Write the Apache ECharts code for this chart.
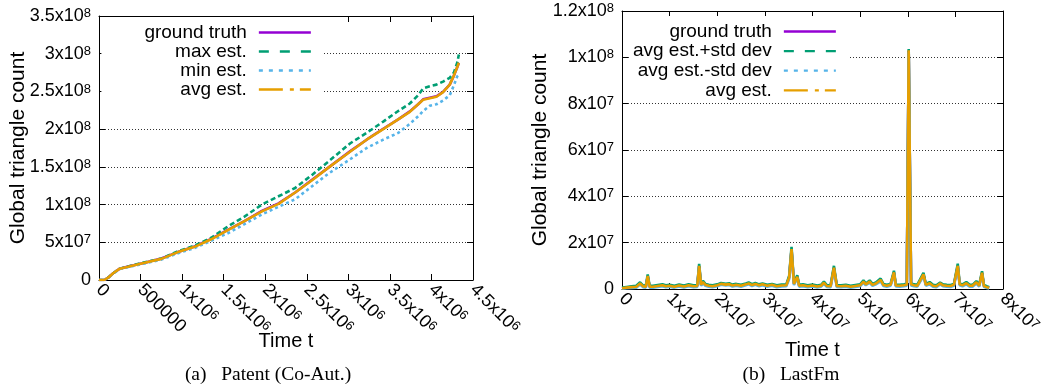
<!DOCTYPE html>
<html><head><meta charset="utf-8">
<script src="https://cdn.jsdelivr.net/npm/echarts@6/dist/echarts.min.js"></script>
<style>html,body{margin:0;padding:0;background:#fff}#c{width:1055px;height:389px}</style>
</head><body><div id="c"></div>
<script>
// ---------- Chart (a) Patent (Co-Aut.) : time in 1e6, counts in 1e6 ----------
const timeA  = [0,0.064,0.11,0.17,0.25,0.35,0.55,0.75,0.95,1.15,1.35,1.55,1.75,1.96,2.16,2.36,2.56,2.76,3.02,3.22,3.42,3.6,3.74,3.84,3.9,3.98,4.06,4.14,4.22,4.27,4.31,4.33];
const truthA = [0,0,3,9,15,17.8,23,28.5,37,44.5,54.5,66.5,78,91.5,101.5,116,132.5,149,170.5,186,200.5,213,223.5,233,239.5,241.5,243.5,249.5,259,271,282,288];
const maxA   = [0,0,3,9,15,17.8,23.5,28.5,38,45.5,56,71,84,100,111,122,139,157,181,195,210,224,234,245,254,257,259,263,268,275,288,299];
const minA   = [0,0,3,8.5,14.5,17,22,27,35.5,42.5,52,62,74,87,97,107,124,141,160,175,186,195,207,217,224,231,233,238,245,258,270,272];
const avgA   = [0,0,3,9,15,17.6,23,28,37,44,54,66,78,91,101,116,132,149,170,186,200,213,223,233,239,241,243,249,259,271,282,288];
const xTicksA = ['0','500000','1x10^6','1.5x10^6','2x10^6','2.5x10^6','3x10^6','3.5x10^6','4x10^6','4.5x10^6'];
const yTicksA = ['0','5x10^7','1x10^8','1.5x10^8','2x10^8','2.5x10^8','3x10^8','3.5x10^8'];
const legendA = ['ground truth','max est.','min est.','avg est.'];

// ---------- Chart (b) LastFm : time in 1e6, counts in 1e6 ----------
const timeB  = [0,1,2,3,3.8,4.4,5.0,5.4,5.8,6.5,
  7.5,8.5,9.2,10,11,12,13,14,15,15.8,
  16.2,16.6,17.0,17.5,18.2,19,20,20.8,21.2,21.8,
  22.5,23.2,24,25,26,26.6,27.3,28,28.8,29.5,
  30.5,31.5,32.5,33.5,34.5,35.1,35.6,36.1,36.5,36.8,
  37.2,38,39,40,41,41.8,42.4,43,43.8,44.5,
  45.1,46,47,48,49,50,50.7,51.2,52,52.6,
  53.3,54.3,54.9,55.6,56.4,57.1,57.5,58.3,59.2,59.8,
  60.2,60.7,61.3,62,63.3,63.8,64.6,65.3,66,66.8,
  67.4,68.2,69,69.7,70.5,70.9,71.5,72.3,73,73.6,
  74.4,75,75.6,76.0,76.6,77.1];
const truthB = [0.3,0.6,0.8,1.0,2.3,1.2,1.0,5.5,1.0,1.0,
  1.3,1.6,1.2,1.4,1.0,1.5,1.1,1.6,1.2,1.3,
  9.9,1.8,3.0,1.8,1.4,1.2,1.6,2.2,2.8,1.9,
  2.1,1.5,1.8,1.4,2.0,2.4,1.7,2.2,1.6,2.0,
  1.4,1.8,1.2,1.5,1.6,5.0,17.1,2.2,1.6,5.3,
  1.4,1.6,1.2,1.5,1.1,1.4,2.7,1.3,1.2,9.1,
  1.3,1.2,1.4,1.0,1.3,1.6,3.2,2.0,3.2,1.8,
  2.4,3.9,1.7,1.4,1.8,7.1,1.5,1.4,1.6,1.8,
  102.8,2.0,1.6,1.4,6.3,1.8,2.5,1.4,1.2,2.4,
  1.6,1.4,1.3,1.8,9.9,2.0,1.6,2.5,1.4,1.4,
  2.9,1.4,6.9,1.3,0.8,0.5];
const upperB = [0.6,0.9,1.2,1.4,2.9,1.6,1.4,6.3,1.4,1.4,
  1.7,2.0,1.6,1.8,1.4,1.9,1.5,2.0,1.6,1.7,
  10.9,2.2,3.5,2.2,1.8,1.6,2.0,2.6,3.4,2.3,
  2.5,1.9,2.2,1.8,2.4,2.8,2.1,2.6,2.0,2.4,
  1.8,2.2,1.6,1.9,2.0,5.7,18.2,2.7,2.0,5.9,
  1.8,2.0,1.6,1.9,1.5,1.8,3.2,1.7,1.6,10.0,
  1.7,1.6,1.8,1.4,1.7,2.0,3.7,2.4,3.7,2.2,
  2.8,4.5,2.1,1.8,2.2,7.9,1.9,1.8,2.0,2.2,
  103.6,2.5,2.0,1.8,7.0,2.2,3.0,1.8,1.6,2.8,
  2.0,1.8,1.7,2.2,10.9,2.4,2.0,3.0,1.8,1.8,
  3.4,1.8,7.7,1.7,1.2,0.8];
const lowerB = [0.1,0.3,0.5,0.6,1.9,0.8,0.6,4.9,0.6,0.6,
  0.9,1.2,0.8,1.0,0.6,1.1,0.7,1.2,0.8,0.9,
  9.1,1.4,2.5,1.4,1.0,0.8,1.2,1.8,2.4,1.5,
  1.7,1.1,1.4,1.0,1.6,2.0,1.3,1.8,1.2,1.6,
  1.0,1.4,0.8,1.1,1.2,4.3,16.2,1.7,1.2,4.7,
  1.0,1.2,0.8,1.1,0.7,1.0,2.2,0.9,0.8,8.4,
  0.9,0.8,1.0,0.6,0.9,1.2,2.7,1.6,2.7,1.4,
  2.0,3.3,1.3,1.0,1.4,6.5,1.1,1.0,1.2,1.4,
  102.2,1.5,1.2,1.0,5.6,1.4,2.0,1.0,0.8,2.0,
  1.2,1.0,0.9,1.4,9.1,1.6,1.2,2.0,1.0,1.0,
  2.4,1.0,6.3,0.9,0.4,0.2];
const avgB = [0.3,0.6,0.8,1.0,2.4,1.2,1.0,5.6,1.0,1.0,
  1.3,1.6,1.2,1.4,1.0,1.5,1.1,1.6,1.2,1.3,
  10.0,1.8,3.0,1.8,1.4,1.2,1.6,2.2,2.9,1.9,
  2.1,1.5,1.8,1.4,2.0,2.4,1.7,2.2,1.6,2.0,
  1.4,1.8,1.2,1.5,1.6,5.0,17.2,2.2,1.6,5.3,
  1.4,1.6,1.2,1.5,1.1,1.4,2.7,1.3,1.2,9.2,
  1.3,1.2,1.4,1.0,1.3,1.6,3.2,2.0,3.2,1.8,
  2.4,3.9,1.7,1.4,1.8,7.2,1.5,1.4,1.6,1.8,
  103,2.0,1.6,1.4,6.3,1.8,2.5,1.4,1.2,2.4,
  1.6,1.4,1.3,1.8,10.0,2.0,1.6,2.5,1.4,1.4,
  2.9,1.4,7.0,1.3,0.8,0.5];
const xTicksB = ['0','1x10^7','2x10^7','3x10^7','4x10^7','5x10^7','6x10^7','7x10^7','8x10^7'];
const yTicksB = ['0','2x10^7','4x10^7','6x10^7','8x10^7','1x10^8','1.2x10^8'];
const legendB = ['ground truth','avg est.+std dev','avg est.-std dev','avg est.'];

const captionA = '(a)\u2002 Patent (Co-Aut.)';
const captionB = '(b)\u2002 LastFm';
const xName = 'Time t';
const yName = 'Global triangle count';

// ---------- styling ----------
const FONT = '"Liberation Sans", Arial, Helvetica, sans-serif';
const SERIF = '"Liberation Serif", "Times New Roman", serif';
const COL = {purple:'#9400d3', green:'#009e73', blue:'#56b4e9', orange:'#e69f00'};
const rich = {
  p: {fontSize:18, fontFamily:FONT, color:'#000'},
  b: {fontSize:18, fontFamily:FONT, color:'#000', padding:[6,0,0,0], lineHeight:18, verticalAlign:'bottom'},
  s: {fontSize:13, fontFamily:FONT, color:'#000', lineHeight:13, verticalAlign:'top'}
};
function fmt(str){
  if(str === undefined) return '';
  const m = str.match(/^(.*)\^(\d+)$/);
  return m ? '{b|' + m[1] + '}{s|' + m[2] + '}' : '{p|' + str + '}';
}
const pair = (ts, vs) => ts.map((t,i) => [t*1e6, vs[i]*1e6]);

function mainX(grid, max, interval, labels){
  return {type:'value', gridIndex:grid, min:0, max:max, interval:interval, position:'bottom',
    axisLine:{show:true, onZero:false, lineStyle:{color:'#000', width:1}},
    axisTick:{show:true, inside:true, length:6, lineStyle:{color:'#000'}},
    splitLine:{show:false},
    axisLabel:{show:true, rotate:-45, margin:7, hideOverlap:false, showMinLabel:true, showMaxLabel:true,
      formatter:(v)=>fmt(labels[Math.round(v/interval)]), rich:rich},
    name:xName, nameLocation:'middle', nameGap:51, nameMoveOverlap:false,
    nameTextStyle:{fontSize:20, fontFamily:FONT, color:'#000'}};
}
function mirrorX(grid, max, interval){
  return {type:'value', gridIndex:grid, min:0, max:max, interval:interval, position:'top',
    axisLine:{show:true, onZero:false, lineStyle:{color:'#000', width:1}},
    axisTick:{show:true, inside:true, length:6, lineStyle:{color:'#000'}},
    axisLabel:{show:false}, splitLine:{show:false}};
}
function mainY(grid, max, interval, labels, gap){
  return {type:'value', gridIndex:grid, min:0, max:max, interval:interval, position:'left',
    axisLine:{show:true, onZero:false, lineStyle:{color:'#000', width:1}},
    axisTick:{show:true, inside:true, length:6, lineStyle:{color:'#000'}},
    splitLine:{show:true, lineStyle:{color:'#333', width:1, type:[1,2]}},
    axisLabel:{show:true, margin:8, hideOverlap:false, showMinLabel:true, showMaxLabel:true,
      formatter:(v)=>fmt(labels[Math.round(v/interval)]), rich:rich},
    name:yName, nameLocation:'middle', nameGap:gap, nameMoveOverlap:false,
    nameTextStyle:{fontSize:21, fontFamily:FONT, color:'#000'}};
}
function mirrorY(grid, max, interval){
  return {type:'value', gridIndex:grid, min:0, max:max, interval:interval, position:'right',
    axisLine:{show:true, onZero:false, lineStyle:{color:'#000', width:1}},
    axisTick:{show:true, inside:true, length:6, lineStyle:{color:'#000'}},
    axisLabel:{show:false}, splitLine:{show:false}};
}
function line(name, data, axis, color, type, z){
  return {type:'line', name:name, data:data, xAxisIndex:axis, yAxisIndex:axis,
    symbol:'none', showSymbol:false, silent:true, z:z, emphasis:{disabled:true},
    lineStyle:{color:color, width:2.6, type:type}, itemStyle:{color:color}};
}
const dashLeg = [10,11], dotLeg = [4,6], dashDotLeg = [24,7,4,6];
function legend(names, right, top, pad, gap){
  return {orient:'vertical', align:'right', right:right, top:top, padding:pad, itemGap:gap,
    itemWidth:52, itemHeight:14, backgroundColor:'#fff', selectedMode:false, z:10,
    itemStyle:{color:'rgba(0,0,0,0)', borderColor:'rgba(0,0,0,0)', borderWidth:0, opacity:0},
    lineStyle:{width:2.3},
    textStyle:{fontSize:19, fontFamily:FONT, color:'#000', padding:[0,7,0,0]},
    data:[{name:names[0], lineStyle:{type:'solid'}},
          {name:names[1], lineStyle:{type:dashLeg}},
          {name:names[2], lineStyle:{type:dotLeg}},
          {name:names[3], lineStyle:{type:dashDotLeg}}]};
}

const chart = echarts.init(document.getElementById('c'), null, {renderer:'canvas'});
chart.setOption({
  animation:false,
  backgroundColor:'#fff',
  grid:[
    {left:99, top:16, width:374, height:264, containLabel:false, outerBoundsMode:'none'},
    {left:622, top:11, width:381, height:278, containLabel:false, outerBoundsMode:'none'}
  ],
  xAxis:[mainX(0, 4.5e6, 5e5, xTicksA), mirrorX(0, 4.5e6, 5e5),
         mainX(1, 8e7, 1e7, xTicksB), mirrorX(1, 8e7, 1e7)],
  yAxis:[mainY(0, 3.5e8, 5e7, yTicksA, 70), mirrorY(0, 3.5e8, 5e7),
         mainY(1, 1.2e8, 2e7, yTicksB, 71), mirrorY(1, 1.2e8, 2e7)],
  legend:[legend(legendA, 732, 17, [6,11,2,43], 0),
          legend(legendB, 207, 16, [6,11,2,4], 0.6)],
  series:[
    line(legendA[0], pair(timeA, truthA), 0, COL.purple, 'solid', 2),
    line(legendA[1], pair(timeA, maxA),   0, COL.green, [5,3], 3),
    line(legendA[2], pair(timeA, minA),   0, COL.blue, [3,3], 4),
    line(legendA[3], pair(timeA, avgA),   0, COL.orange, 'solid', 5),
    line(legendB[0], pair(timeB, truthB), 2, COL.purple, 'solid', 2),
    line(legendB[1], pair(timeB, upperB), 2, COL.green, 'solid', 3),
    line(legendB[2], pair(timeB, lowerB), 2, COL.blue, 'solid', 4),
    line(legendB[3], pair(timeB, avgB),   2, COL.orange, 'solid', 5)
  ],
  graphic:[
    {type:'text', x:268, y:375, style:{text:captionA, fontSize:19.5, fontFamily:SERIF, fill:'#000', align:'center', verticalAlign:'middle'}},
    {type:'text', x:791, y:375, style:{text:captionB, fontSize:19.5, fontFamily:SERIF, fill:'#000', align:'center', verticalAlign:'middle'}}
  ]
});
</script>
</body></html>
